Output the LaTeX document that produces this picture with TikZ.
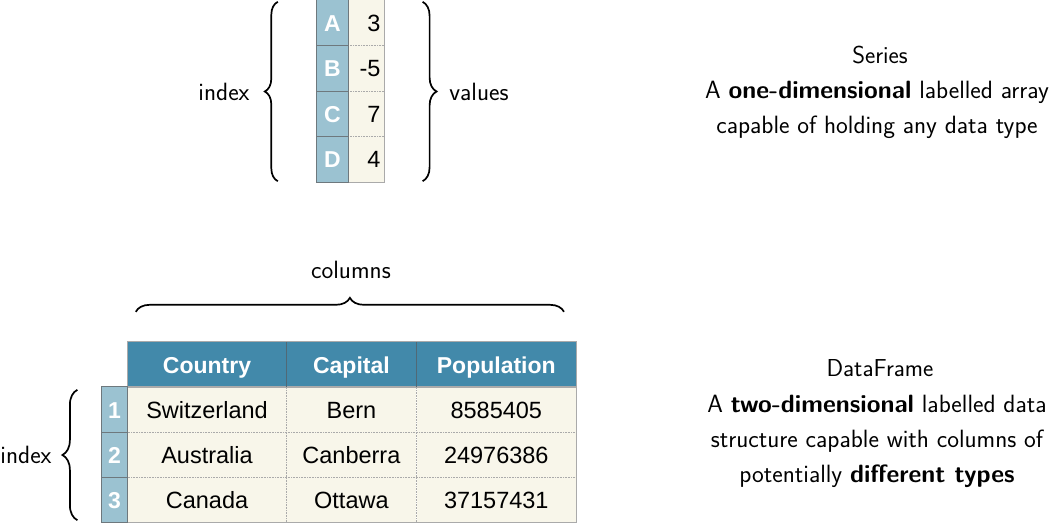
\documentclass[tikz,border=0pt]{standalone}
\usepackage{fontspec}
\usepackage{xcolor}
\usepackage{tikz}
\usetikzlibrary{positioning, decorations.pathreplacing}
\newfontfamily\tabfont{Liberation Sans}
\definecolor{headblue}{RGB}{66,137,170}
\definecolor{idxblue}{RGB}{155,194,209}
\definecolor{cream}{RGB}{248,246,234}
\definecolor{idxline}{RGB}{110,120,125}
\definecolor{headline}{RGB}{80,105,118}
\definecolor{valline}{RGB}{170,170,170}
\tikzset{x=1pt, y=-1pt,
cell/.style={rectangle, inner sep=0pt, minimum height=45pt,
  text height=17pt, text depth=0pt,
  font=\tabfont\fontsize{23.5}{28}\selectfont},
idxcell/.style={cell, fill=idxblue, text=white,
  font=\tabfont\bfseries\fontsize{23}{28}\selectfont},
valcell/.style={cell, fill=cream, minimum width=36pt, text width=28pt,
  inner xsep=4pt, align=right},
headcell/.style={cell, fill=headblue, text=white,
  font=\tabfont\bfseries\fontsize{23}{30}\selectfont},
datacell/.style={cell, fill=cream},
dotline/.style={densely dotted, valline, line width=0.6pt},
bracestyle/.style={decorate, line width=1.7pt},
label/.style={font=\sffamily\fontsize{25}{30}\selectfont},
title/.style={font=\sffamily\fontsize{24.5}{30}\selectfont\addfontfeature{FakeBold=1.5}},
desc/.style={align=center, font=\sffamily\fontsize{25}{35}\selectfont}}

\begin{document}
\begin{tikzpicture}
\useasboundingbox (0,0) rectangle (1051,523);
% Series
\foreach \lab/\val [count=\i] in {A/3,B/-5,C/7,D/4} {
  \node[idxcell, minimum width=31pt, minimum height=45.5pt] (s\lab) at (332.5, {45.5*\i-22.75}) {\lab};
  \node[valcell, minimum height=45.5pt, right=0pt of s\lab] (v\lab) {\val};
}
\foreach \a in {A,B,C}
  \draw[dotline] (v\a.south west) -- (v\a.south east);
\draw[valline, line width=0.8pt] (vA.north west) rectangle (vD.south east);
\foreach \a in {A,B,C}
  \draw[idxline, line width=0.8pt] (s\a.south west) -- (s\a.south east);
\draw[idxline, line width=0.8pt] (sA.north west) rectangle (sD.south east);
\draw[bracestyle, decoration={brace, amplitude=13pt}]
  ([xshift=-39pt,yshift=1pt]sD.south west) -- ([xshift=-39pt,yshift=-2pt]sA.north west);
\draw[bracestyle, decoration={brace, amplitude=14pt}]
  ([xshift=38pt,yshift=-2pt]vA.north east) -- ([xshift=38pt,yshift=1pt]vD.south east);
\node[label] (sidx) at (224,92) {index};
\node[label] (svals) at (479,92) {values};
\node[title] (sertitle) at (880,55) {Series};
\node[desc] (serdesc) at (877,109.5) {A \textbf{one-dimensional} labelled array\\capable of holding any data type};

% DataFrame
\node[headcell, minimum width=158pt] (hcountry) at (207,364.5) {Country};
\node[headcell, minimum width=130pt, right=0pt of hcountry] (hcapital) {Capital};
\node[headcell, minimum width=159pt, right=0pt of hcapital] (hpop) {Population};
\foreach \n/\c/\k/\p in {1/Switzerland/Bern/8585405, 2/Australia/Canberra/24976386, 3/Canada/Ottawa/37157431} {
  \node[datacell, minimum width=158pt] (country\n) at (207, {364.5+45*\n}) {\c};
  \node[datacell, minimum width=130pt, right=0pt of country\n] (capital\n) {\k};
  \node[datacell, minimum width=159pt, right=0pt of capital\n] (pop\n) {\p};
  \node[idxcell, minimum width=26pt, left=0pt of country\n] (i\n) {\n};
}
\foreach \n in {1,2}
  \draw[dotline] (country\n.south west) -- (pop\n.south east);
\draw[dotline] (country1.north east) -- (country3.south east);
\draw[dotline] (capital1.north east) -- (capital3.south east);
\draw[valline, line width=0.8pt] (country1.north west) rectangle (pop3.south east);
\draw[headline, line width=0.8pt] (hcountry.north east) -- (hcountry.south east);
\draw[headline, line width=0.8pt] (hcapital.north east) -- (hcapital.south east);
\draw[valline, line width=0.8pt] (hcountry.north west) rectangle (hpop.south east);
\foreach \n in {1,2}
  \draw[idxline, line width=0.8pt] (i\n.south west) -- (i\n.south east);
\draw[idxline, line width=0.8pt] (i1.north west) rectangle (i3.south east);
\draw[bracestyle, decoration={brace, amplitude=14pt}]
  ([xshift=8pt,yshift=30pt]hcountry.north west) -- ([xshift=-12pt,yshift=30pt]hpop.north east);
\draw[bracestyle, decoration={brace, amplitude=15pt}]
  ([xshift=-24pt,yshift=2pt]i3.south west) -- ([xshift=-24pt,yshift=-3pt]i1.north west);
\node[label] (cols) at (351,270) {columns};
\node[label] (didx) at (26,455) {index};
\node[title] (dftitle) at (880,368) {DataFrame};
\node[desc] (dfdesc) at (877,441.5) {A \textbf{two-dimensional} labelled data\\structure capable with columns of\\potentially \textbf{different types}};
\end{tikzpicture}
\end{document}
